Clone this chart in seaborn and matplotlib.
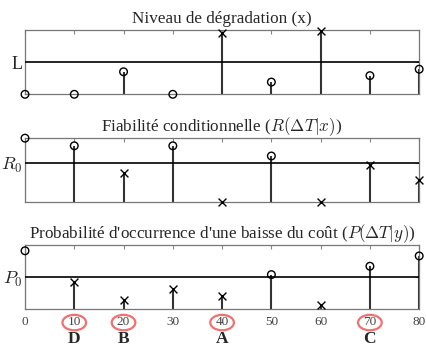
import matplotlib

matplotlib.use("Agg")
import matplotlib.pyplot as plt
import matplotlib.transforms as mtransforms
from matplotlib.patches import Ellipse
import numpy as np
import pandas as pd
import seaborn as sns

# data
x_steps = [0, 10, 20, 30, 40, 50, 60, 70, 80]
degradation = [0.0, 0.0, 0.35, 0.0, 0.95, 0.19, 0.98, 0.29, 0.39]
reliability = [1.0, 0.88, 0.46, 0.88, 0.0, 0.72, 0.0, 0.58, 0.35]
cost_drop = [0.91, 0.42, 0.14, 0.31, 0.21, 0.54, 0.07, 0.67, 0.83]
thresholds = [0.50, 0.61, 0.51]
threshold_labels = ["L", r"$R_0$", r"$P_0$"]
titles = [
    "Niveau de dégradation (x)",
    r"Fiabilité conditionnelle ($R(\Delta T|x)$)",
    r"Probabilité d'occurrence d'une baisse du coût ($P(\Delta T|y)$)",
]
circle_above = [False, True, True]  # circle marker when value is above threshold
xtick_values = [0, 10, 20, 30, 40, 50, 60, 70, 80]
highlight_ticks = [10, 20, 40, 70]
highlight_letters = ["D", "B", "A", "C"]

sns.set_style("white")
plt.rcParams["font.family"] = ["Liberation Serif", "DejaVu Serif"]
plt.rcParams["mathtext.fontset"] = "cm"

fig = plt.figure(figsize=(4.26, 3.48), dpi=100)
boxes = [(0.729, 0.914), (0.420, 0.603), (0.111, 0.296)]
series = [degradation, reliability, cost_drop]

for i, (vals, thr) in enumerate(zip(series, thresholds)):
    bottom, top = boxes[i]
    ax = fig.add_axes([0.0587, bottom, 0.984 - 0.0587, top - bottom])
    df = pd.DataFrame({"x": x_steps, "y": vals})
    above = df["y"] > thr
    is_circle = above if circle_above[i] else ~above

    ax.vlines(df["x"], 0, df["y"], color="#333333", lw=1.5, zorder=2)
    ax.axhline(thr, color="black", lw=1.2, zorder=3)
    sns.scatterplot(data=df[is_circle], x="x", y="y", ax=ax, marker="o", s=30,
                    facecolor="none", edgecolor="black", linewidth=1.0,
                    zorder=4, clip_on=False, legend=False)
    sns.scatterplot(data=df[~is_circle], x="x", y="y", ax=ax, marker="x", s=32,
                    color="black", linewidth=1.0, zorder=4, clip_on=False,
                    legend=False)

    ax.set_xlim(0, 80)
    ax.set_ylim(0, 1)
    ax.set_xticks(xtick_values)
    ax.set_yticks([thr])
    ax.set_yticklabels([threshold_labels[i]], fontsize=13)
    ax.set_xlabel("")
    ax.set_ylabel("")
    ax.set_title(titles[i], fontsize=12.3, pad=5)
    ax.tick_params(direction="in", length=3, top=True, right=True, color="#888888",
                   pad=2)
    for sp in ax.spines.values():
        sp.set_color("#777777")
        sp.set_linewidth(0.9)
    if i < 2:
        ax.set_xticklabels([])
    else:
        ax.set_xticklabels([str(v) for v in xtick_values], fontsize=9.5,
                           color="#444444")
        ax.tick_params(axis="x", pad=5)
        trans = mtransforms.blended_transform_factory(ax.transData, ax.transAxes)
        for xv, letter in zip(highlight_ticks, highlight_letters):
            ax.add_patch(Ellipse((xv, -0.205), 4.8, 0.24, transform=trans,
                                 fill=False, edgecolor="#f07070", lw=1.6,
                                 clip_on=False))
            ax.text(xv, -0.46, letter, transform=trans, ha="center", va="center",
                    fontsize=12.5, fontweight="bold")

fig.savefig("out.png", dpi=100)
